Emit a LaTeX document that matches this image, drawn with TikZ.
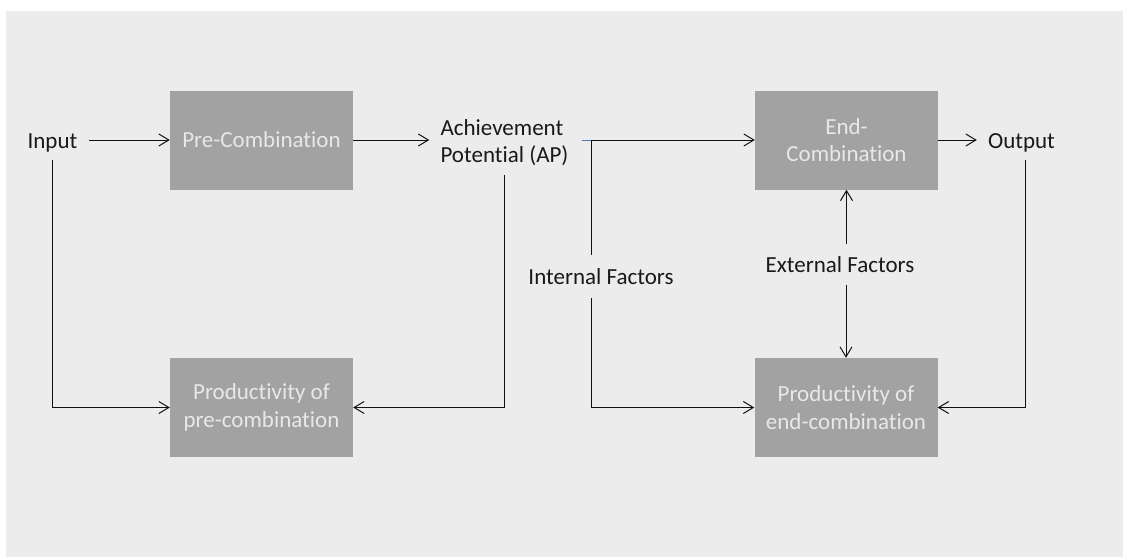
\documentclass[tikz,border=0pt]{standalone}
\usepackage{fontspec}
\setmainfont{Carlito}[Ligatures=NoCommon]
\usetikzlibrary{arrows.meta,calc}
\definecolor{bgc}{HTML}{ECECEC}
\definecolor{boxc}{HTML}{A2A2A2}
\definecolor{boxtxt}{HTML}{E8E8E8}
\definecolor{linec}{HTML}{111111}
\definecolor{bluec}{HTML}{4A7EBB}
\tikzset{
  box/.style={rectangle, fill=boxc, minimum width=183pt, minimum height=99pt, inner sep=0pt,
    text=boxtxt, align=center, font=\fontsize{23pt}{27.5pt}\selectfont},
  lbl/.style={rectangle, inner sep=0pt, yshift=-2.5pt, text=black!90, font=\fontsize{23pt}{27.5pt}\selectfont},
  conn/.style={draw=linec, line width=1pt},
  arr/.style={conn, -{Straight Barb[length=10pt,width=12pt,line width=1pt]}},
}
\begin{document}
\begin{tikzpicture}[x=1pt,y=-1pt]
\useasboundingbox (0,0) rectangle (1123,557);
\fill[bgc] (6,11) rectangle (1123,557);
% nodes
\node[lbl, minimum width=73pt, minimum height=35pt] (input) at (52.5,140) {Input};
\node[box] (pre) at (261.5,140) {Pre-Combination};
\node[box] (prod1) at (261.5,407.5) {Productivity of\\pre-combination};
\node[lbl, align=left, minimum width=150pt, minimum height=64.4pt] (ap) at (504.5,140) {Achievement\\Potential (AP)};
\node[box] (endb) at (846.5,140) {End-\\Combination};
\node[box] (prod2) at (846,407.5) {Productivity of\\end-combination};
\node[lbl, minimum width=89pt, minimum height=35pt] (output) at (1021.5,140) {Output};
\node[lbl, minimum width=150pt, minimum height=42pt] (internal) at (601,274) {Internal Factors};
\node[lbl, minimum width=150pt, minimum height=40pt] (external) at (840,262) {External Factors};
\coordinate (j) at (591,140);
% connectors
\draw[arr] (input.east |- pre.west) -- (pre.west);
\draw[arr] (input.south) |- (prod1.west);
\draw[arr] (pre.east) -- (ap.west |- pre.east);
\draw[arr] (ap.south) |- (prod1.east);
\draw[arr] (j) -- (endb.west);
\draw[draw=bluec, line width=1pt] ([xshift=2pt]ap.east |- j) -- (j);
\draw[conn] (j) -- (j |- internal.north);
\draw[arr] (j |- internal.south) |- (prod2.west);
\draw[arr] (endb.east) -- (output.west |- endb.east);
\draw[arr] ([xshift=4pt]output.south) |- (prod2.east);
\draw[arr] (external.north -| endb.south) -- (endb.south);
\draw[arr] (external.south -| prod2.north) -- (prod2.north);
\end{tikzpicture}
\end{document}
